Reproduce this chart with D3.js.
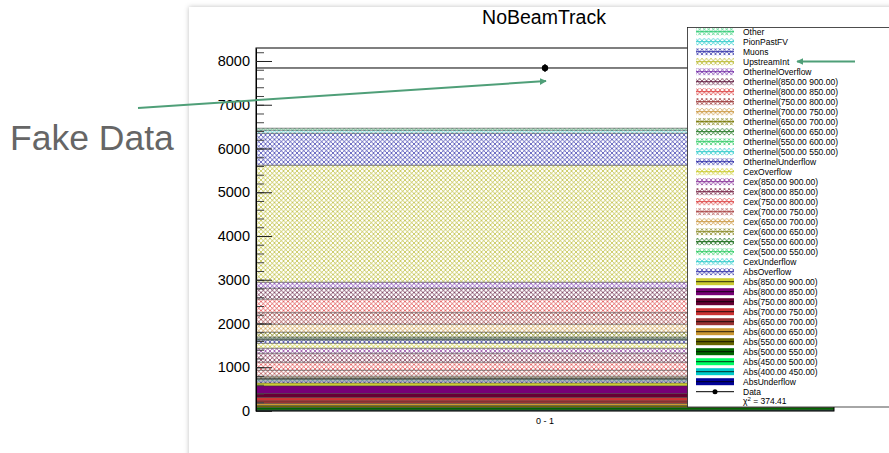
<!DOCTYPE html>
<html>
<head>
<meta charset="utf-8">
<style>
  body { margin: 0; background: #fff; }
  text { font-family: "Liberation Sans", Arial, sans-serif; }
</style>
</head>
<body>
<svg id="slide" width="889" height="453"></svg>
<script src="https://cdn.jsdelivr.net/npm/d3@7"></script>
<script>

// stack contributions, bottom to top
var layerNames = [
  "AbsUnderflow", "Abs(400.00 450.00)", "Abs(450.00 500.00)", "Abs(500.00 550.00)",
  "Abs(550.00 600.00)", "Abs(600.00 650.00)", "Abs(650.00 700.00)", "Abs(700.00 750.00)",
  "Abs(750.00 800.00)", "Abs(800.00 850.00)", "Abs(850.00 900.00)", "AbsOverflow",
  "CexUnderflow", "Cex(500.00 550.00)", "Cex(550.00 600.00)", "Cex(600.00 650.00)",
  "Cex(650.00 700.00)", "Cex(700.00 750.00)", "Cex(750.00 800.00)", "Cex(800.00 850.00)",
  "Cex(850.00 900.00)", "CexOverflow",
  "OtherInelUnderflow", "OtherInel(500.00 550.00)", "OtherInel(550.00 600.00)",
  "OtherInel(600.00 650.00)", "OtherInel(650.00 700.00)", "OtherInel(700.00 750.00)",
  "OtherInel(750.00 800.00)", "OtherInel(800.00 850.00)", "OtherInel(850.00 900.00)",
  "OtherInelOverflow", "UpstreamInt", "Muons", "PionPastFV", "Other"
];
var layerValues = [
  7, 7, 11, 57, 46, 46, 57, 80, 91, 171, 69, 46,
  34, 11, 11, 16, 34, 137, 183, 206, 114, 114,
  69, 16, 16, 37, 114, 183, 263, 309, 251, 137,
  2674, 731, 69, 46
];
var layerColors = [
  "#000099", "#00cccc", "#00ff66", "#006600", "#666600", "#cc9933", "#993333", "#cc3333",
  "#660033", "#770077", "#cccc33", "#3333aa",
  "#33cccc", "#33cc66", "#116611", "#888822", "#cc9944", "#aa4444", "#dd4444", "#772244",
  "#883399", "#cccc33",
  "#3333aa", "#33cccc", "#33cc66", "#227722", "#777700", "#cc9944", "#993333", "#dd4444",
  "#662244", "#7733aa", "#bbbb33", "#3333aa", "#33cccc", "#33cc77"
];

var binLabels = ["0 - 1"];
var dataValue = [7840];
var dataError = [89];
var chi2 = "374.41";
var yTicks = [0, 1000, 2000, 3000, 4000, 5000, 6000, 7000, 8000];

var svg = d3.select("#slide");
var defs = svg.append("defs");

defs.append("filter").attr("id", "shadow")
    .attr("x", -0.05).attr("y", -0.05).attr("width", 1.2).attr("height", 1.2)
  .append("feDropShadow")
    .attr("dx", 0).attr("dy", 0).attr("stdDeviation", 2.5)
    .attr("flood-color", "#000").attr("flood-opacity", 0.25);

defs.append("marker").attr("id", "arrow")
    .attr("viewBox", "0 0 10 10").attr("refX", 9).attr("refY", 5)
    .attr("markerWidth", 7).attr("markerHeight", 7)
    .attr("markerUnits", "userSpaceOnUse")
    .attr("orient", "auto")
  .append("path").attr("d", "M0,0 L10,5 L0,10 z").attr("fill", "#4f9f78");

// slide panel
svg.append("rect")
    .attr("x", 189).attr("y", 7).attr("width", 760).attr("height", 480)
    .attr("fill", "#fff").attr("filter", "url(#shadow)");

var isSolid = function(n) { return n.indexOf("Abs") === 0 && n !== "AbsOverflow"; };

// hatch patterns (crossed diagonals with a dot at the crossing)
layerNames.forEach(function(n, i) {
  if (isSolid(n)) return;
  var p = defs.append("pattern").attr("id", "hatch" + i)
      .attr("patternUnits", "userSpaceOnUse").attr("width", 4.5).attr("height", 4.5);
  p.append("path").attr("d", "M-1,-1 L5.5,5.5 M-1,5.5 L5.5,-1")
      .attr("stroke", layerColors[i]).attr("stroke-width", 0.85).attr("opacity", 0.85);
  p.append("circle").attr("cx", 2.25).attr("cy", 2.25).attr("r", 0.7)
      .attr("fill", layerColors[i]).attr("opacity", 0.8);
});

var plot = {left: 256, right: 834, top: 48, bottom: 411};

var y = d3.scaleLinear().domain([0, 8297]).range([plot.bottom, plot.top]);
var x = d3.scaleBand().domain(binLabels).range([plot.left, plot.right]);

// stacked layers
var cum = 0;
var stacked = layerValues.map(function(v, i) {
  var d = {name: layerNames[i], lo: cum, hi: cum + v, i: i};
  cum += v;
  return d;
});

var g = svg.append("g");
g.selectAll("rect.layer").data(stacked).enter().append("rect")
    .attr("class", "layer")
    .attr("x", x(binLabels[0]))
    .attr("width", x.bandwidth())
    .attr("y", function(d) { return y(d.hi); })
    .attr("height", function(d) { return y(d.lo) - y(d.hi); })
    .attr("fill", function(d) { return isSolid(d.name) ? layerColors[d.i] : "url(#hatch" + d.i + ")"; });

g.selectAll("line.edge").data(stacked).enter().append("line")
    .attr("x1", plot.left).attr("x2", plot.right)
    .attr("y1", function(d) { return y(d.hi); })
    .attr("y2", function(d) { return y(d.hi); })
    .attr("stroke", "#333").attr("stroke-width", 0.7).attr("opacity", 0.85);

// data: histogram line + point with error bar
var cx = x(binLabels[0]) + x.bandwidth() / 2;
g.append("line")
    .attr("x1", plot.left).attr("x2", plot.right)
    .attr("y1", y(dataValue[0])).attr("y2", y(dataValue[0]))
    .attr("stroke", "#000").attr("stroke-width", 1);
g.append("line")
    .attr("x1", cx).attr("x2", cx)
    .attr("y1", y(dataValue[0] - dataError[0])).attr("y2", y(dataValue[0] + dataError[0]))
    .attr("stroke", "#000").attr("stroke-width", 1.2);
g.append("circle").attr("cx", cx).attr("cy", y(dataValue[0])).attr("r", 3.2).attr("fill", "#000");

// frame
svg.append("rect")
    .attr("x", plot.left).attr("y", plot.top)
    .attr("width", plot.right - plot.left).attr("height", plot.bottom - plot.top)
    .attr("fill", "none").attr("stroke", "#000").attr("stroke-width", 1);

// y axis, ROOT style ticks inside
var minorTicks = d3.range(0, 8297, 200);
svg.append("g")
    .attr("transform", "translate(" + plot.left + ",0)")
    .call(d3.axisLeft(y).tickValues(minorTicks).tickSizeInner(-8).tickSizeOuter(0).tickFormat(""))
    .call(function(a) { a.select(".domain").remove(); a.selectAll("line").attr("stroke", "#444"); });

var yAxis = svg.append("g")
    .attr("transform", "translate(" + plot.left + ",0)")
    .call(d3.axisLeft(y).tickValues(yTicks).tickSizeInner(-16).tickSizeOuter(0)
      .tickPadding(6).tickFormat(d3.format("d")));
yAxis.select(".domain").attr("stroke", "#000");
yAxis.selectAll("line").attr("stroke", "#222");
yAxis.selectAll("text").attr("font-size", "14.5px").attr("fill", "#000")
    .attr("font-family", "Liberation Sans, Arial, sans-serif");

// x label
svg.append("text")
    .attr("x", cx).attr("y", 424)
    .attr("text-anchor", "middle").attr("font-size", "9px").attr("fill", "#000")
    .text(binLabels[0]);

// title
svg.append("text")
    .attr("x", 544).attr("y", 24)
    .attr("text-anchor", "middle").attr("font-size", "19.5px").attr("fill", "#000")
    .text("NoBeamTrack");

// legend
var leg = svg.append("g");
leg.append("rect")
    .attr("x", 687.5).attr("y", 27.5).attr("width", 260).attr("height", 379.5)
    .attr("fill", "#fff").attr("stroke", "#222").attr("stroke-width", 0.8);

var legendItems = stacked.slice().reverse();
var rowY = function(k) { return 31.7 + k * 10; };

legendItems.forEach(function(d, k) {
  var ry = rowY(k);
  var col = layerColors[d.i];
  if (isSolid(d.name)) {
    leg.append("rect").attr("x", 696).attr("y", ry - 3.5).attr("width", 38).attr("height", 7)
        .attr("fill", col);
    leg.append("line").attr("x1", 696).attr("x2", 734).attr("y1", ry).attr("y2", ry)
        .attr("stroke", "#000").attr("stroke-width", 0.8);
  } else {
    leg.append("rect").attr("x", 696).attr("y", ry - 3.5).attr("width", 38).attr("height", 7)
        .attr("fill", "url(#hatch" + d.i + ")");
    leg.append("line").attr("x1", 696).attr("x2", 734).attr("y1", ry).attr("y2", ry)
        .attr("stroke", col).attr("stroke-width", 1);
  }
  leg.append("text").attr("x", 743).attr("y", ry + 3)
      .attr("font-size", "8.5px").attr("fill", "#000").text(d.name);
});

var kData = legendItems.length;
leg.append("line").attr("x1", 696).attr("x2", 734).attr("y1", rowY(kData)).attr("y2", rowY(kData))
    .attr("stroke", "#000").attr("stroke-width", 1);
leg.append("circle").attr("cx", 715).attr("cy", rowY(kData)).attr("r", 2.5).attr("fill", "#000");
leg.append("text").attr("x", 743).attr("y", rowY(kData) + 3)
    .attr("font-size", "8.5px").attr("fill", "#000").text("Data");

var chiText = leg.append("text").attr("x", 743).attr("y", rowY(kData + 1) + 2.5)
    .attr("font-size", "8.5px").attr("fill", "#000");
chiText.append("tspan").text("\u03c7");
chiText.append("tspan").attr("dy", -3).attr("font-size", "6px").text("2");
chiText.append("tspan").attr("dy", 3).text(" = " + chi2);

// annotations
svg.append("text")
    .attr("x", 10).attr("y", 150)
    .attr("font-family", "Lato, 'Open Sans', sans-serif").attr("font-weight", 300)
    .attr("font-size", "35.5px").attr("fill", "#666")
    .text("Fake Data");

svg.append("line")
    .attr("x1", 138).attr("y1", 108).attr("x2", 546).attr("y2", 81)
    .attr("stroke", "#4f9f78").attr("stroke-width", 2).attr("marker-end", "url(#arrow)");

svg.append("line")
    .attr("x1", 855).attr("y1", 61.5).attr("x2", 797).attr("y2", 61.5)
    .attr("stroke", "#4f9f78").attr("stroke-width", 2).attr("marker-end", "url(#arrow)");

</script>
</body>
</html>
